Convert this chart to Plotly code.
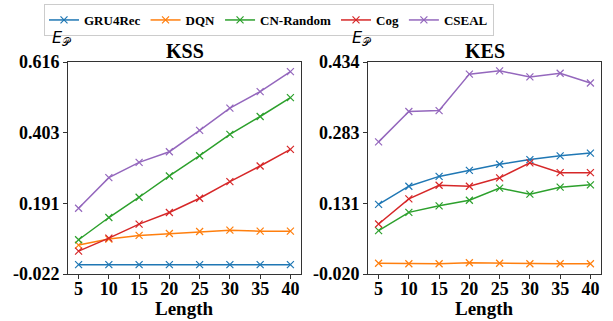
import plotly.graph_objects as go

lengths = [5, 10, 15, 20, 25, 30, 35, 40]
methods = ["GRU4Rec", "DQN", "CN-Random", "Cog", "CSEAL"]
colors = ["#1f77b4", "#ff7f0e", "#2ca02c", "#d62728", "#9467bd"]

kss_gru4rec = [0.006, 0.006, 0.006, 0.006, 0.006, 0.006, 0.006, 0.006]
kss_dqn = [0.065, 0.083, 0.094, 0.100, 0.106, 0.110, 0.107, 0.107]
kss_cnrandom = [0.081, 0.148, 0.209, 0.273, 0.334, 0.398, 0.452, 0.509]
kss_cog = [0.047, 0.086, 0.128, 0.163, 0.206, 0.256, 0.303, 0.353]
kss_cseal = [0.176, 0.268, 0.314, 0.346, 0.410, 0.477, 0.527, 0.587]

kes_gru4rec = [0.129, 0.168, 0.189, 0.202, 0.215, 0.225, 0.233, 0.239]
kes_dqn = [0.003, 0.002, 0.002, 0.004, 0.003, 0.002, 0.002, 0.002]
kes_cnrandom = [0.073, 0.112, 0.126, 0.138, 0.164, 0.151, 0.166, 0.171]
kes_cog = [0.087, 0.141, 0.170, 0.168, 0.186, 0.218, 0.197, 0.197]
kes_cseal = [0.263, 0.328, 0.330, 0.408, 0.415, 0.402, 0.410, 0.389]

kss_ticks = [-0.022, 0.191, 0.403, 0.616]
kes_ticks = [-0.020, 0.131, 0.283, 0.434]
kss_range = [-0.022, 0.616]
kes_range = [-0.020, 0.434]

kss = [kss_gru4rec, kss_dqn, kss_cnrandom, kss_cog, kss_cseal]
kes = [kes_gru4rec, kes_dqn, kes_cnrandom, kes_cog, kes_cseal]

fig = go.Figure()
for i, m in enumerate(methods):
    fig.add_trace(go.Scatter(x=lengths, y=kss[i], mode="lines+markers", name="<b>%s</b>" % m,
                             line=dict(color=colors[i], width=1.5),
                             marker=dict(symbol="x-thin", size=7, line=dict(width=1.2, color=colors[i])),
                             xaxis="x", yaxis="y", legendgroup=m))
for i, m in enumerate(methods):
    fig.add_trace(go.Scatter(x=lengths, y=kes[i], mode="lines+markers", name="<b>%s</b>" % m,
                             line=dict(color=colors[i], width=1.5),
                             marker=dict(symbol="x-thin", size=7, line=dict(width=1.2, color=colors[i])),
                             xaxis="x2", yaxis="y2", legendgroup=m, showlegend=False))

tickfont = dict(family="Liberation Serif", size=18, color="black")
axis_common = dict(showline=True, mirror=True, linecolor="#333", linewidth=1,
                   ticks="outside", ticklen=4, tickcolor="#333", showgrid=False,
                   zeroline=False, tickfont=tickfont, automargin=False)

fig.update_layout(
    width=613, height=321,
    margin=dict(l=0, r=0, t=0, b=0, autoexpand=False),
    plot_bgcolor="white", paper_bgcolor="white",
    font=dict(family="Liberation Serif", color="black"),
    xaxis=dict(domain=[68/613, 301/613], range=[3.25, 41.75], tickvals=lengths, anchor="y", **axis_common),
    yaxis=dict(domain=[1-274/321, 1-62/321], range=kss_range, tickvals=kss_ticks,
               ticktext=["<b>%.3f</b>" % t for t in kss_ticks], anchor="x", **axis_common),
    xaxis2=dict(domain=[368/613, 601/613], range=[3.25, 41.75], tickvals=lengths, anchor="y2", **axis_common),
    yaxis2=dict(domain=[1-274/321, 1-62/321], range=kes_range, tickvals=kes_ticks,
                ticktext=["<b>%.3f</b>" % t for t in kes_ticks], anchor="x2", **axis_common),
    legend=dict(orientation="h", x=269/613, xanchor="center", y=1-4/321, yanchor="top",
                bordercolor="#ccc", borderwidth=1, bgcolor="white",
                font=dict(family="Liberation Serif", size=13, color="black"),
                itemwidth=30, tracegroupgap=0),
)
fig.update_xaxes(ticktext=["<b>%d</b>" % v for v in lengths], ticklabelstandoff=-6)

annots = [
    dict(text="<b>KSS</b>", x=(68+301)/2/613, y=1-51/321, size=20),
    dict(text="<b>KES</b>", x=(368+601)/2/613, y=1-51/321, size=20),
    dict(text="<b>Length</b>", x=(68+301)/2/613, y=1-308/321, size=19),
    dict(text="<b>Length</b>", x=(368+601)/2/613, y=1-308/321, size=19),
]
for a in annots:
    sz = a.pop("size")
    fig.add_annotation(xref="paper", yref="paper", showarrow=False, xanchor="center", yanchor="middle",
                       font=dict(family="Liberation Serif", size=sz, color="black"), **a)
for xp in [62, 362]:
    fig.add_annotation(xref="paper", yref="paper", showarrow=False, xanchor="center", yanchor="middle",
                       x=xp/613, y=1-38/321, text="<i>E</i><sub>𝒫</sub>",
                       font=dict(family="DejaVu Sans", size=16, color="black"))

fig.write_html("out.html", config={"displayModeBar": False},
               post_script="document.body.style.margin='0';document.body.style.overflow='hidden';")
